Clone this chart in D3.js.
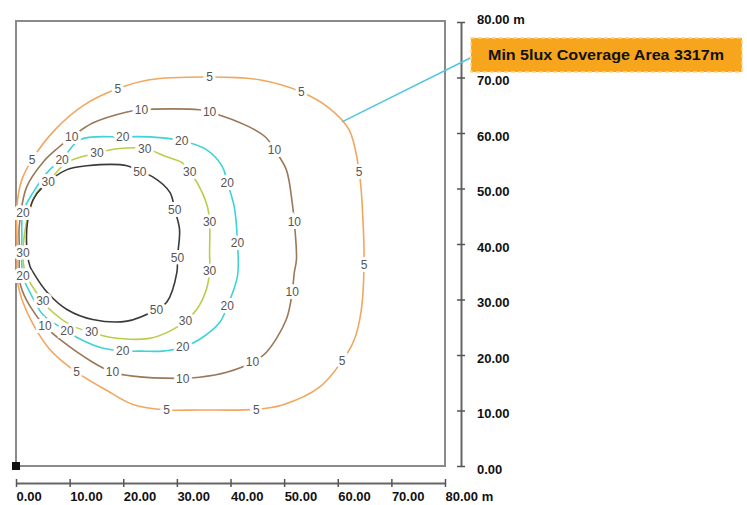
<!DOCTYPE html>
<html>
<head>
<meta charset="utf-8">
<script src="https://cdn.jsdelivr.net/npm/d3@7"></script>
<style>
  body { margin: 0; background: #fff; }
  svg { display: block; font-family: "Liberation Sans", Arial, sans-serif; }
</style>
</head>
<body>
<svg id="chart" width="747" height="505"></svg>
<script>
// DATA (metres)
const xTicks = [0, 10, 20, 30, 40, 50, 60, 70, 80];
const yTicks = [0, 10, 20, 30, 40, 50, 60, 70, 80];
const levels = [5, 10, 20, 30, 50];

// 5 lux (open at the wall)
const line5 = [
  [0.2, 33.5], [0.2, 40], [0.2, 47.1], [1.1, 51.6], [3.0, 55.2], [7.3, 60.6], [12.8, 65.1],
  [19.0, 68.0], [24.9, 69.6], [36.1, 70.1], [45.4, 69.6], [53.2, 67.4],
  [58.4, 64.5], [62.1, 60.6], [64.0, 53.0], [64.7, 44.3], [64.9, 36.3],
  [64.4, 28.2], [63.1, 22.8], [60.8, 18.9], [56.6, 14.2], [49.7, 11.0],
  [44.8, 10.2], [34.2, 10.1], [28.1, 10.1], [21.8, 11.1], [17.5, 13.3],
  [11.3, 16.9], [6.3, 21.0], [3.2, 25.5], [1.1, 30.0], [0.2, 33.5]
];
const labels5 = [
  [3.0, 55.2], [19.0, 68.0], [36.1, 70.1], [53.2, 67.4], [64.0, 53.0],
  [64.9, 36.3], [60.8, 18.9], [44.8, 10.2], [28.1, 10.1], [11.3, 16.9]
];

const line10 = [
  [0.6, 35], [0.6, 40], [0.6, 43.1], [2.0, 50.3], [5.0, 54.7], [7.8, 57.3], [10.4, 59.3],
  [14.3, 61.8], [20.7, 63.8], [23.4, 64.2], [34.2, 64.2], [36.1, 63.8],
  [43.5, 61.1], [46.7, 59.1], [48.2, 57.0], [50.4, 53.4], [51.5, 47.5],
  [51.9, 44.0], [52.3, 37.2], [51.9, 34.9], [51.5, 31.3], [50.4, 26.4],
  [46.7, 20.5], [44.1, 18.7], [39.3, 16.9], [34.2, 16.0], [31.1, 15.8],
  [21.8, 16.2], [18.0, 16.9], [14.3, 18.7], [8.2, 22.8], [5.4, 25.2],
  [2.6, 28.8], [0.9, 32.4], [0.6, 35]
];
const labels10 = [
  [10.4, 59.3], [23.4, 64.2], [36.1, 63.8], [48.2, 57.0], [51.9, 44.0],
  [51.5, 31.3], [44.1, 18.7], [31.1, 15.8], [18.0, 16.9], [5.4, 25.2]
];

const line20 = [
  [1.1, 41.3], [1.3, 45.7], [3.2, 49.3], [6.3, 53.4], [8.6, 55.2], [11.9, 58.8],
  [19.9, 59.3], [24.9, 59.3], [30.9, 58.6], [35.5, 57.0], [38.5, 53.9],
  [39.4, 51.1], [40.7, 46.7], [41.3, 40.3], [41.3, 34.2], [39.4, 28.8],
  [38.0, 25.9], [34.2, 22.8], [31.1, 21.4], [27.3, 20.7], [23.1, 20.7],
  [19.9, 20.7], [15.6, 21.4], [11.3, 23.2], [9.5, 24.3], [5.0, 27.3],
  [2.6, 31.3], [1.3, 34.2]
];
const labels20 = [
  [1.3, 45.7], [8.6, 55.2], [19.9, 59.3], [30.9, 58.6], [39.4, 51.1],
  [41.3, 40.3], [39.4, 28.8], [31.1, 21.4], [19.9, 20.7], [9.5, 24.3], [1.3, 34.2]
];

const line30 = [
  [1.3, 38.5], [2.2, 44.9], [3.9, 49.3], [6.0, 51.2], [9.5, 54.7], [15.1, 56.4],
  [19.3, 57.2], [24.0, 57.2], [28.1, 55.7], [30.9, 54.7], [32.4, 53.0],
  [34.2, 50.3], [35.7, 46.7], [36.1, 44.0], [36.1, 38.5], [36.1, 35.1],
  [35.5, 31.8], [33.7, 28.2], [31.6, 26.1], [28.7, 24.3], [24.9, 23.0],
  [17.5, 23.2], [14.1, 24.1], [10.6, 25.2], [6.3, 28.2], [5.0, 29.7],
  [2.6, 33.1], [1.5, 35.8]
];
const labels30 = [
  [1.3, 38.5], [6.0, 51.2], [15.1, 56.4], [24.0, 57.2], [32.4, 53.0],
  [36.1, 44.0], [36.1, 35.1], [31.6, 26.1], [14.1, 24.1], [5.0, 29.7]
];

const line50 = [
  [2.0, 39.6], [2.2, 44.4], [3.2, 48.0], [5.0, 50.3], [9.5, 53.4], [13.2, 54.1],
  [20.7, 54.1], [23.1, 53.0], [25.5, 52.1], [28.7, 49.3], [29.6, 46.2],
  [30.5, 42.6], [30.1, 37.6], [30.0, 34.9], [28.1, 29.5], [26.2, 28.2],
  [20.7, 26.1], [14.3, 26.4], [9.5, 28.2], [5.8, 31.3], [3.2, 34.9], [2.6, 36.0]
];
const labels50 = [
  [23.1, 53.0], [29.6, 46.2], [30.1, 37.6], [26.2, 28.2]
];

const contours = [
  { level: 5, pts: line5, labels: labels5, closed: false },
  { level: 10, pts: line10, labels: labels10, closed: false },
  { level: 20, pts: line20, labels: labels20, closed: true },
  { level: 30, pts: line30, labels: labels30, closed: true },
  { level: 50, pts: line50, labels: labels50, closed: true },
];

const annotationText = "Min 5lux Coverage Area 3317m";
const annotationFrom = [60.8, 62.0];
const annotationTo = [84.7, 73.5];

// STYLE
const colors = d3.scaleOrdinal()
  .domain(levels)
  .range(["#f2a65e", "#9a7858", "#3fd3d6", "#bdcc48", "#3a3a3a"]);

const svg = d3.select("#chart");

const x = d3.scaleLinear().domain([0, 80]).range([16, 445]);
const y = d3.scaleLinear().domain([0, 80]).range([466, 22]);

// frame
svg.append("rect")
  .attr("x", x(0)).attr("y", 21)
  .attr("width", x(80) - x(0)).attr("height", y(0) - 21)
  .attr("fill", "#fff").attr("stroke", "#8a8a8a").attr("stroke-width", 2);

// contours
const lineOpen = d3.line().x(d => x(d[0])).y(d => y(d[1])).curve(d3.curveCatmullRom);
const lineClosed = d3.line().x(d => x(d[0])).y(d => y(d[1])).curve(d3.curveCatmullRomClosed);

const cg = svg.append("g").attr("class", "contours");
cg.selectAll("path")
  .data(contours)
  .join("path")
  .attr("d", d => (d.closed ? lineClosed : lineOpen)(d.pts))
  .attr("fill", "none")
  .attr("stroke", d => colors(d.level))
  .attr("stroke-width", 1.6);

const lg = svg.append("g").attr("class", "labels");
contours.forEach(function (c) {
  lg.selectAll(null)
    .data(c.labels)
    .join("text")
    .attr("x", d => x(d[0]))
    .attr("y", d => y(d[1]))
    .attr("dy", "0.35em")
    .attr("text-anchor", "middle")
    .attr("font-size", 12)
    .attr("fill", "#555")
    .attr("stroke", "#fff")
    .attr("stroke-width", 6)
    .attr("paint-order", "stroke")
    .text(c.level);
});

// origin marker
svg.append("rect")
  .attr("x", x(0) - 4).attr("y", y(0) - 4)
  .attr("width", 8).attr("height", 8)
  .attr("fill", "#111");

// X AXIS
const xAxis = svg.append("g")
  .attr("transform", "translate(0,483)")
  .call(d3.axisBottom(x).tickValues(xTicks).tickSize(0)
    .tickFormat((d, i) => d3.format(".2f")(d) + (i === xTicks.length - 1 ? " m" : "")));
xAxis.select(".domain").attr("stroke", "#666").attr("stroke-width", 2);
xAxis.selectAll(".tick line").attr("y1", -4).attr("y2", 4).attr("stroke", "#555").attr("stroke-width", 1.5);
xAxis.selectAll(".tick text")
  .attr("text-anchor", "start").attr("x", 0).attr("y", 18).attr("dy", 0)
  .attr("font-size", 13).attr("font-weight", "bold").attr("fill", "#111")
  .attr("font-family", "Liberation Sans, Arial, sans-serif");

// Y AXIS
const yAxis = svg.append("g")
  .attr("transform", "translate(461,0)")
  .call(d3.axisRight(y).tickValues(yTicks).tickSize(0)
    .tickFormat((d, i) => d3.format(".2f")(d) + (i === yTicks.length - 1 ? " m" : "")));
yAxis.select(".domain").attr("stroke", "#666").attr("stroke-width", 2);
yAxis.selectAll(".tick line").attr("x1", -4).attr("x2", 4).attr("stroke", "#555").attr("stroke-width", 1.5);
yAxis.selectAll(".tick text")
  .attr("x", 16).attr("dy", "0.55em")
  .attr("font-size", 13).attr("font-weight", "bold").attr("fill", "#111")
  .attr("font-family", "Liberation Sans, Arial, sans-serif");
yAxis.selectAll(".tick").filter(d => d === 80).select("text").attr("dy", "0.1em");

// ANNOTATION
svg.append("line")
  .attr("x1", x(annotationFrom[0])).attr("y1", y(annotationFrom[1]))
  .attr("x2", x(annotationTo[0])).attr("y2", y(annotationTo[1]))
  .attr("stroke", "#52c6df").attr("stroke-width", 1.6);

const ag = svg.append("g").attr("transform", "translate(471,38)");
ag.append("rect")
  .attr("width", 271).attr("height", 34)
  .attr("fill", "#f6a51c")
  .attr("stroke", "#ffd489").attr("stroke-width", 1.5)
  .attr("stroke-dasharray", "4,3");
ag.append("text")
  .attr("x", 135).attr("y", 17).attr("dy", "0.36em")
  .attr("text-anchor", "middle")
  .attr("font-size", 15).attr("font-weight", "bold").attr("fill", "#111")
  .attr("textLength", 236).attr("lengthAdjust", "spacingAndGlyphs")
  .text(annotationText);
</script>
</body>
</html>
